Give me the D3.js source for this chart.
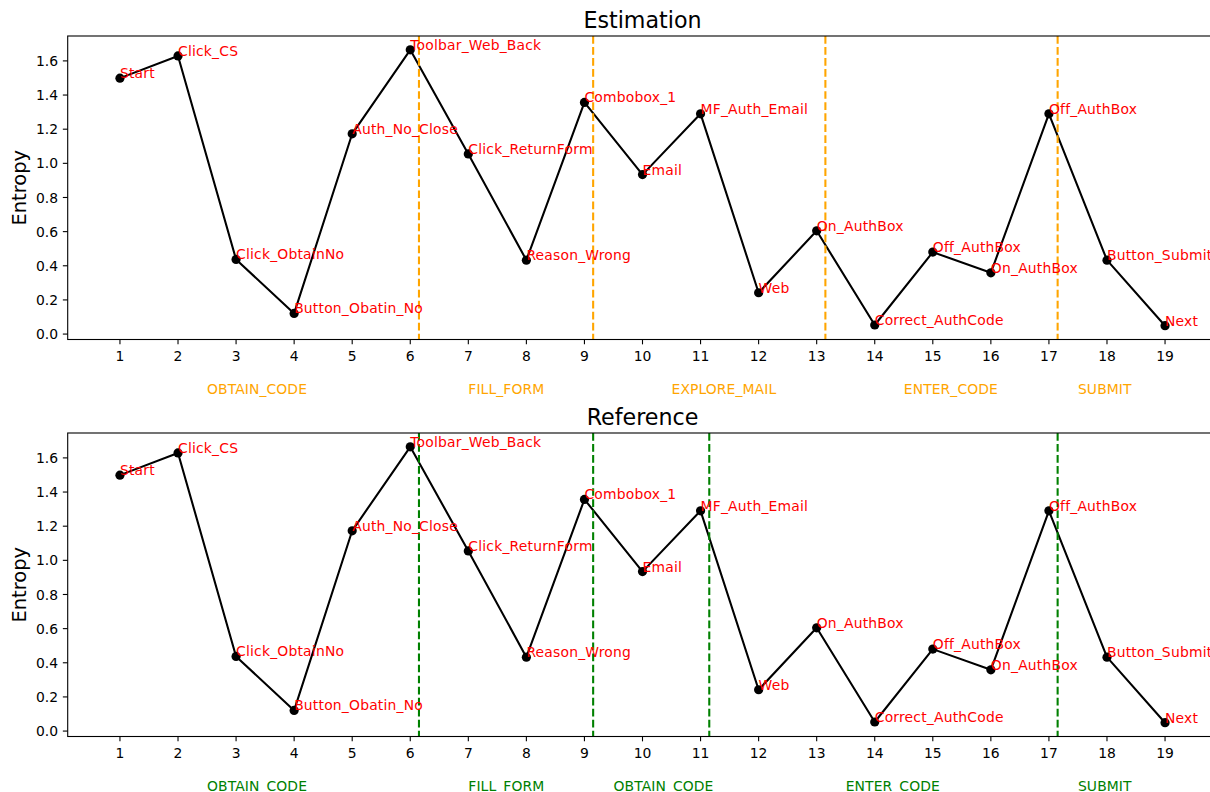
<!DOCTYPE html>
<html><head><meta charset="utf-8">
<script src="https://cdn.jsdelivr.net/npm/d3@7"></script>
<style>
html,body{margin:0;padding:0;background:#fff;overflow:hidden;}
svg{display:block;font-family:"DejaVu Sans",sans-serif;}
</style></head>
<body>
<svg id="chart" width="1210" height="792"></svg>
<script>
// ---- data ----
const steps = [1,2,3,4,5,6,7,8,9,10,11,12,13,14,15,16,17,18,19];
const entropy = [1.499,1.629,0.437,0.121,1.173,1.665,1.055,0.433,1.357,0.934,1.290,0.242,0.605,0.053,0.480,0.359,1.290,0.433,0.049];
const actions = ["Start","Click_CS","Click_ObtainNo","Button_Obatin_No","Auth_No_Close","Toolbar_Web_Back","Click_ReturnForm","Reason_Wrong","Combobox_1","Email","MF_Auth_Email","Web","On_AuthBox","Correct_AuthCode","Off_AuthBox","On_AuthBox","Off_AuthBox","Button_Submit","Next"];
const yTicks = [0.0,0.2,0.4,0.6,0.8,1.0,1.2,1.4,1.6];

const estBoundaries = [6.15,9.15,13.15,17.15];
const estPhases = ["OBTAIN_CODE","FILL_FORM","EXPLORE_MAIL","ENTER_CODE","SUBMIT"];
const estPhaseX = [2.5,7.0,10.5,14.5,17.5];

const refBoundaries = [6.15,9.15,11.15,17.15];
const refPhases = ["OBTAIN_CODE","FILL_FORM","OBTAIN_CODE","ENTER_CODE","SUBMIT"];
const refPhaseX = [2.5,7.0,9.5,13.5,17.5];
const phaseY = -0.35;

const panels = [
  {title:"Estimation", boundaries:estBoundaries, phases:estPhases, phaseX:estPhaseX, color:"#ffa500", top:36, bottom:339.5},
  {title:"Reference", boundaries:refBoundaries, phases:refPhases, phaseX:refPhaseX, color:"#008000", top:433, bottom:736.5}
];

const svg = d3.select("#chart");
const left = 67.7, right = 1217.3;
const FS = 13.9;

// matplotlib-like 5% margins
const xe = d3.extent(steps), ye = d3.extent(entropy);
const xm = (xe[1]-xe[0])*0.05, ym = (ye[1]-ye[0])*0.05;
const x = d3.scaleLinear().domain([xe[0]-xm, xe[1]+xm]).range([left, right]);

const pts = steps.map((s,i)=>({x:s, y:entropy[i], label:actions[i]}));

panels.forEach((p,pi)=>{
  const y = d3.scaleLinear().domain([ye[0]-ym, ye[1]+ym]).range([p.bottom, p.top]);
  const g = svg.append("g");
  const clipId = "clip"+pi;
  svg.append("clipPath").attr("id",clipId).append("rect")
    .attr("x",left).attr("y",p.top).attr("width",right-left).attr("height",p.bottom-p.top);

  // data line
  const line = d3.line().x(d=>x(d.x)).y(d=>y(d.y));
  g.append("path").datum(pts).attr("d",line).attr("fill","none")
    .attr("stroke","#000").attr("stroke-width",2.08).attr("stroke-linejoin","round")
    .attr("clip-path",`url(#${clipId})`);
  g.selectAll("circle").data(pts).join("circle")
    .attr("cx",d=>x(d.x)).attr("cy",d=>y(d.y)).attr("r",4.6).attr("fill","#000");

  // vertical dashed lines
  g.selectAll("line.vb").data(p.boundaries).join("line").attr("class","vb")
    .attr("x1",d=>x(d)).attr("x2",d=>x(d)).attr("y1",p.top).attr("y2",p.bottom)
    .attr("stroke",p.color).attr("stroke-width",2.08).attr("stroke-dasharray","7.7,3.33");

  // annotations
  g.selectAll("text.ann").data(pts).join("text").attr("class","ann")
    .attr("x",d=>x(d.x)).attr("y",d=>y(d.y)).attr("fill","#ff0000")
    .attr("font-size",FS).attr("letter-spacing",0.2).text(d=>d.label);

  // phase labels
  g.selectAll("text.ph").data(p.phases).join("text").attr("class","ph")
    .attr("x",(d,i)=>x(p.phaseX[i])).attr("y",y(phaseY)).attr("fill",p.color)
    .attr("font-size",FS).attr("letter-spacing",0.1).text(d=>d);

  // frame
  g.append("rect").attr("x",left).attr("y",p.top).attr("width",right-left).attr("height",p.bottom-p.top)
    .attr("fill","none").attr("stroke","#000").attr("stroke-width",1.1);

  // x axis ticks
  const xa = g.append("g");
  xa.selectAll("line").data(steps).join("line")
    .attr("x1",d=>x(d)).attr("x2",d=>x(d)).attr("y1",p.bottom).attr("y2",p.bottom+4.86)
    .attr("stroke","#000").attr("stroke-width",1.1);
  xa.selectAll("text").data(steps).join("text")
    .attr("x",d=>x(d)).attr("y",p.bottom+21.3).attr("text-anchor","middle")
    .attr("font-size",FS).attr("fill","#000").text(d=>d);

  // y axis ticks
  const ya = g.append("g");
  ya.selectAll("line").data(yTicks).join("line")
    .attr("x1",left-4.86).attr("x2",left).attr("y1",d=>y(d)).attr("y2",d=>y(d))
    .attr("stroke","#000").attr("stroke-width",1.1);
  ya.selectAll("text").data(yTicks).join("text")
    .attr("x",left-9.7).attr("y",d=>y(d)+5.1).attr("text-anchor","end")
    .attr("font-size",FS).attr("fill","#000").text(d=>d.toFixed(1));

  // y label
  const cy = (p.top+p.bottom)/2;
  g.append("text").attr("transform",`translate(25.8,${cy}) rotate(-90)`)
    .attr("text-anchor","middle").attr("font-size",19.4).attr("fill","#000").text("Entropy");

  // title
  g.append("text").attr("x",(left+right)/2).attr("y",p.top-7.9).attr("text-anchor","middle")
    .attr("font-size",22.2).attr("fill","#000").text(p.title);
});
</script>
</body></html>
